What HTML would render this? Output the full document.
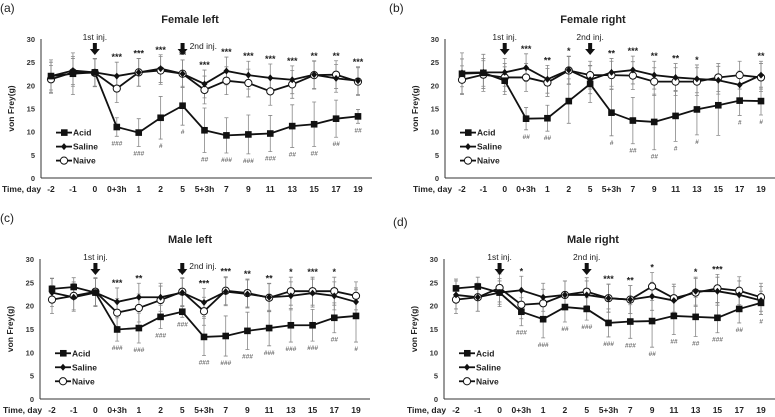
<!DOCTYPE html>
<html><head><meta charset="utf-8"><style>
body{margin:0;background:#fff;}
svg{display:block;font-family:"Liberation Sans",sans-serif;}
</style></head><body>
<svg id="chart" width="775" height="417" viewBox="0 0 775 417" xmlns="http://www.w3.org/2000/svg"></svg>
<script>
const categories=['-2','-1','0','0+3h','1','2','5','5+3h','7','9','11','13','15','17','19'];
const yTicks=[0,5,10,15,20,25,30];
const titles=['Female left','Female right','Male left','Male right'];
const panelLabels=['(a)','(b)','(c)','(d)'];
const acidA=[22,22.5,22.8,11,9.8,13,15.6,10.3,9.2,9.4,9.6,11.2,11.6,12.8,13.3];
const salineA=[22,23.2,22.8,22,22.8,23.6,22.5,20.3,23.1,22.2,21.6,21.2,22.3,21.5,21];
const naiveA=[21.3,22.8,22.7,19.3,22.8,23.2,22.5,19,21,20.5,18.7,20.2,22.2,22.3,20.8];
const acidSdA=[3.5,4.5,3,2,3,4.6,4.2,4.8,3.8,4.2,3.9,4.6,4.8,4,1.5];
const starsA=['','','','***','***','***','**','***','***','***','***','***','**','**','***'];
const hashA=['','','','###','###','#','#','##','###','###','###','##','##','##','##'];
const acidB=[22.5,22.7,21,12.8,12.9,16.6,20.3,14.1,12.4,12.1,13.4,14.8,15.7,16.7,16.6];
const salineB=[22.7,22.8,22.8,23.8,21.3,23.3,21.2,22.8,23.3,22.2,21.7,21.4,21.1,20.1,22.2];
const naiveB=[21.2,22.3,21.7,21.7,20.6,23.2,22.2,22.2,22.1,20.8,20.8,20.8,21.7,22.2,21.7];
const acidSdB=[4.5,4,3,2.4,2.8,4.8,4,5,5,6,5.5,5.5,6.5,3.2,3];
const starsB=['','','','***','**','*','','**','***','**','**','*','','','**'];
const hashB=['','','','##','##','','','#','##','##','#','#','','#','#'];
const acidC=[23.6,24,22.8,14.9,15.2,17.6,18.7,13.3,13.5,14.6,15.2,15.8,15.8,17.4,17.8];
const salineC=[22.8,21.8,22.8,20.8,21.8,21.8,22.8,20.7,23,22.5,21.8,22.1,22.7,22.1,20.8];
const naiveC=[21.3,22.1,23,18.5,19.5,21.2,23,18.8,23.2,22.7,21.7,23.1,23.1,23.1,22.1];
const acidSdC=[2.3,2,3,2.5,3.2,2.5,1.2,4,4.3,4,3.8,3.6,3.4,3.2,5.6];
const starsC=['','','','***','**','','**','***','***','**','**','*','***','*',''];
const hashC=['','','','###','###','###','###','###','###','###','###','###','###','##','#'];
const acidD=[23.7,24.1,22.8,18.7,17.1,19.7,19.3,16.3,16.6,16.7,17.8,17.6,17.4,19.3,20.6];
const salineD=[22.3,21.8,22.8,23.3,21.8,22.3,22.3,21.6,21.3,22,21.1,23.1,23.1,22.3,21.1];
const naiveD=[21.3,21.8,23.8,20.2,20.5,22.3,23,21.6,21.3,24.1,21.6,22.8,23.7,23.2,21.8];
const acidSdD=[2,2,2.5,3,4,3.2,2.4,3,3.6,5.6,4,4.2,3.2,3,2.5];
const starsD=['','','','*','','','','***','**','*','','*','***','',''];
const hashD=['','','','###','###','##','###','###','###','##','##','##','###','##','#'];
const otherSd=3;

const NS='http://www.w3.org/2000/svg';
const svg=document.getElementById('chart');
function mk(tag,attrs,parent,text){const e=document.createElementNS(NS,tag);for(const k in attrs)e.setAttribute(k,attrs[k]);if(text!==undefined)e.textContent=text;(parent||svg).appendChild(e);return e;}

const panels=[
 {ax:41,y30:39,y0:178,x0:51,x1:358,lx:0,ly:12,tx:190,ty:23,acid:acidA,sal:salineA,nai:naiveA,sd:acidSdA,st:starsA,hs:hashA,side:true},
 {ax:445,y30:39,y0:178,x0:462,x1:761,lx:389,ly:12,tx:593,ty:23,acid:acidB,sal:salineB,nai:naiveB,sd:acidSdB,st:starsB,hs:hashB,side:false},
 {ax:40,y30:259,y0:399,x0:52,x1:356,lx:0,ly:222,tx:190,ty:243,acid:acidC,sal:salineC,nai:naiveC,sd:acidSdC,st:starsC,hs:hashC,side:true},
 {ax:444,y30:259,y0:399,x0:456,x1:761,lx:393,ly:226,tx:593,ty:243,acid:acidD,sal:salineD,nai:naiveD,sd:acidSdD,st:starsD,hs:hashD,side:false}
];
const ids=['a','b','c','d'];
panels.forEach((p,pi)=>{
 const g=mk('g',{},svg);
 
 
 const sx=i=>p.x0+(p.x1-p.x0)*i/(categories.length-1);
 const sy=v=>p.y0-(p.y0-p.y30)*v/30;
 let t=mk('text',{x:p.lx,y:p.ly,'font-size':12,fill:'#222'},g,panelLabels[pi]);
 
 t=mk('text',{x:p.tx,y:p.ty,'font-size':11,'font-weight':'bold','text-anchor':'middle',fill:'#222'},g,titles[pi]);
 
 let a=mk('line',{x1:p.ax,y1:p.y30,x2:p.ax,y2:p.y0,stroke:'#333','stroke-width':1},g);
 
 a=mk('line',{x1:p.ax,y1:p.y0,x2:p.x1+14,y2:p.y0,stroke:'#333','stroke-width':1},g);
 
 yTicks.forEach(v=>{const e=mk('text',{x:p.ax-6,y:sy(v)+3,'font-size':7.5,'font-weight':'bold','text-anchor':'end',fill:'#333'},g,String(v));
  });
 const yl=mk('text',{transform:`translate(${p.ax-27},${(p.y0+p.y30)/2}) rotate(-90)`,'font-size':8.5,'font-weight':'bold','text-anchor':'middle',fill:'#222'},g,'von Frey(g)');
 
 const xl=mk('text',{x:p.x0-49,y:p.y0+14,'font-size':8.5,'font-weight':'bold',fill:'#222'},g,'Time, day');
 
 categories.forEach((c,i)=>{const e=mk('text',{x:sx(i),y:p.y0+14,'font-size':8.5,'font-weight':'bold','text-anchor':'middle',fill:'#222'},g,c);
  });
 const eb=(arr,sds)=>arr.forEach((v,i)=>{const s=Array.isArray(sds)?sds[i]:sds;const x=sx(i);
  const e=mk('path',{d:`M${x},${sy(v-s)}V${sy(v+s)}M${x-2},${sy(v-s)}h4M${x-2},${sy(v+s)}h4`,stroke:'#888','stroke-width':0.8,fill:'none'},g);
  });
 eb(p.nai,otherSd);eb(p.sal,otherSd);eb(p.acid,p.sd);
 const line=(arr,name)=>{const e=mk('polyline',{points:arr.map((v,i)=>sx(i)+','+sy(v)).join(' '),fill:'none',stroke:'#111','stroke-width':1.8},g);
  };
 line(p.nai,'naive');line(p.sal,'saline');line(p.acid,'acid');
 p.nai.forEach((v,i)=>{const e=mk('circle',{cx:sx(i),cy:sy(v),r:3.6,fill:'#fff',stroke:'#111','stroke-width':1},g);
  });
 p.sal.forEach((v,i)=>{const x=sx(i),y=sy(v);const e=mk('path',{d:`M${x},${y-3.5}L${x+3},${y}L${x},${y+3.5}L${x-3},${y}Z`,fill:'#111'},g);
  });
 p.acid.forEach((v,i)=>{const e=mk('rect',{x:sx(i)-3.3,y:sy(v)-3.3,width:6.6,height:6.6,fill:'#111'},g);
  });
 p.st.forEach((s,i)=>{if(!s)return;const top=Math.max(p.acid[i]+p.sd[i],p.sal[i]+otherSd,p.nai[i]+otherSd);
  const e=mk('text',{x:sx(i),y:sy(top)-2,'font-size':9,'font-weight':'bold','text-anchor':'middle',fill:'#222'},g,s);
  });
 p.hs.forEach((s,i)=>{if(!s)return;const e=mk('text',{x:sx(i),y:sy(p.acid[i]-p.sd[i])+9,'font-size':6.5,'font-style':'italic','text-anchor':'middle',fill:'#333'},g,s);
  });
 [[2,'1st inj.'],[6,'2nd inj.']].forEach(([i,lab],k)=>{const x=sx(i);const yb=p.y30+4;const right=(k===1&&p.side);
  const e=mk('path',{d:`M${x-2},${yb}h4v6h3l-5,6l-5,-6h3z`,fill:'#111'},g);
  
  const tt=right?mk('text',{x:x+7,y:yb+6,'font-size':8.5,'text-anchor':'start',fill:'#222'},g,lab)
                :mk('text',{x:x,y:yb-3,'font-size':8.5,'text-anchor':'middle',fill:'#222'},g,lab);
  });
 const lg=mk('g',{},g);
 const lx=p.ax+15,ly0=sy(9.8);
 ['Acid','Saline','Naive'].forEach((n,k)=>{const y=ly0+k*14;
  const en=mk('g',{},lg);
  mk('line',{x1:lx,y1:y,x2:lx+16,y2:y,stroke:'#111','stroke-width':1.8},en);
  if(k===0)mk('rect',{x:lx+5,y:y-3.3,width:6.6,height:6.6,fill:'#111'},en);
  if(k===1)mk('path',{d:`M${lx+8},${y-3.5}l3,3.5l-3,3.5l-3,-3.5z`,fill:'#111'},en);
  if(k===2)mk('circle',{cx:lx+8,cy:y,r:3.6,fill:'#fff',stroke:'#111'},en);
  mk('text',{x:lx+17,y:y+3,'font-size':8.5,'font-weight':'bold',fill:'#222'},en,n);});
});
</script>
</body></html>
